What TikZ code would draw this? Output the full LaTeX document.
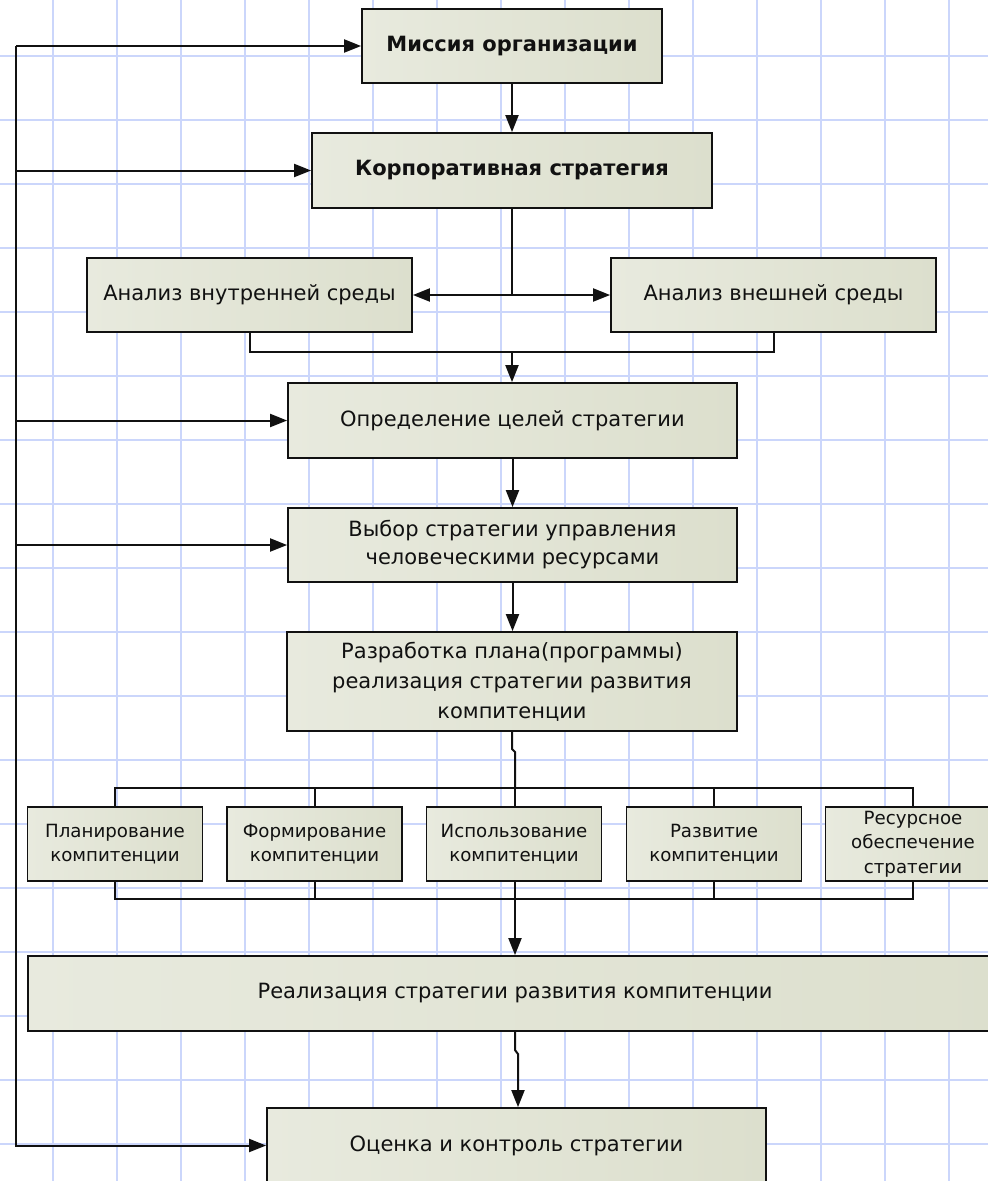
\documentclass[tikz,border=0pt]{standalone}
\usepackage{fontspec}
\setmainfont{DejaVu Sans}
\usetikzlibrary{arrows.meta,calc}
\definecolor{gridc}{HTML}{CBD6FB}
\definecolor{boxL}{HTML}{E8EADE}
\definecolor{boxR}{HTML}{DCDFCD}
\definecolor{ink}{HTML}{111111}
\begin{document}
\begin{tikzpicture}[x=1pt,y=-1pt,
  box/.style={draw=ink, line width=1.8pt, left color=boxL, right color=boxR, align=center, inner sep=0pt, font=\fontsize{21}{28}\selectfont, text=ink},
  boldbox/.style={box, font=\fontsize{21}{28}\selectfont\bfseries},
  three/.style={font=\fontsize{21}{30}\selectfont},
  small/.style={box, minimum width=175pt, minimum height=74pt, font=\fontsize{18.2}{24.5}\selectfont},
  conn/.style={line width=2pt, draw=ink},
  arr/.style={conn, -{Triangle[length=17pt,width=13pt]}}]
\useasboundingbox (0,0) rectangle (988,1181);
\clip (0,0) rectangle (988,1181);
\fill[white] (0,0) rectangle (988,1181);
\foreach \i in {0,...,14} \draw[gridc, line width=1.8pt] ({52.7+64*\i},0) -- ({52.7+64*\i},1181);
\foreach \i in {0,...,17} \draw[gridc, line width=1.8pt] (0,{55.7+64*\i}) -- (988,{55.7+64*\i});

% nodes
\node[boldbox, minimum width=300pt, minimum height=74pt] (m) at (512,46) {Миссия организации};
\node[boldbox, minimum width=400pt, minimum height=75pt] (k) at (512,170.5) {Корпоративная стратегия};
\node[box, minimum width=325pt, minimum height=74pt] (vn) at (249.5,295) {Анализ внутренней среды};
\node[box, minimum width=325pt, minimum height=74pt] (vs) at (773.5,295) {Анализ внешней среды};
\node[box, minimum width=449pt, minimum height=75pt] (opr) at (512.5,420.5) {Определение целей стратегии};
\node[box, minimum width=449pt, minimum height=74pt] (vyb) at (512.5,545) {Выбор стратегии управления\\человеческими ресурсами};
\node[box, three, minimum width=450pt, minimum height=99pt] (raz) at (512,681.5) {Разработка плана(программы)\\реализация стратегии развития\\компитенции};
\node[small] (p1) at (115,844) {Планирование\\компитенции};
\node[small] (p2) at (314.5,844) {Формирование\\компитенции};
\node[small] (p3) at (514,844) {Использование\\компитенции};
\node[small] (p4) at (714,844) {Развитие\\компитенции};
\node[small] (p5) at (913,844) {Ресурсное\\обеспечение\\стратегии};
\node[box, minimum width=974pt, minimum height=75pt] (real) at (515,993.5) {Реализация стратегии развития компитенции};
\node[box, minimum width=499pt, minimum height=75pt] (o) at (516.5,1145.5) {Оценка и контроль стратегии};

% coordinates
\coordinate (fb) at (16,0);
\coordinate (j) at (512,295);
\coordinate (bus1) at (512,352);
\coordinate (top) at (515,788);
\coordinate (bot) at (515,899);
\coordinate (jog1) at (515,1050);
\coordinate (jog2) at (518,1054);

% feedback line
\draw[arr] (fb |- m.west) -- (m.west);
\draw[arr] (fb |- m.west) -- (fb |- o.west) -- (o.west);
\draw[arr] (fb |- k.west) -- (k.west);
\draw[arr] (fb |- opr.west) -- (opr.west);
\draw[arr] (fb |- vyb.west) -- (vyb.west);

% main spine
\draw[arr] (m.south) -- (k.north);
\draw[conn] (k.south) -- (j);
\draw[arr] (j) -- (vn.east);
\draw[arr] (j) -- (vs.west);
\draw[conn] (vn.south) |- (bus1) -| (vs.south);
\draw[arr] (bus1) -- (bus1 |- opr.north);
\draw[arr] (opr.south) -- (opr.south |- vyb.north);
\draw[arr] (vyb.south) -- (vyb.south |- raz.north);
\draw[conn] (raz.south) -- ++(0,17) -- (515,752) -- (top);

% buses for small boxes
\draw[conn] (p1.north) |- (top) -| (p5.north);
\draw[conn] (p2.north) -- (p2.north |- top);
\draw[conn] (p3.north -| top) -- (top);
\draw[conn] (p4.north) -- (p4.north |- top);
\draw[conn] (p1.south) |- (bot) -| (p5.south);
\draw[conn] (p2.south) -- (p2.south |- bot);
\draw[conn] (p3.south -| bot) -- (bot);
\draw[conn] (p4.south) -- (p4.south |- bot);
\draw[arr] (bot) -- (bot |- real.north);

% to evaluation
\draw[arr] (real.south -| bot) -- (jog1) -- (jog2) -- (jog2 |- o.north);
\end{tikzpicture}
\end{document}
